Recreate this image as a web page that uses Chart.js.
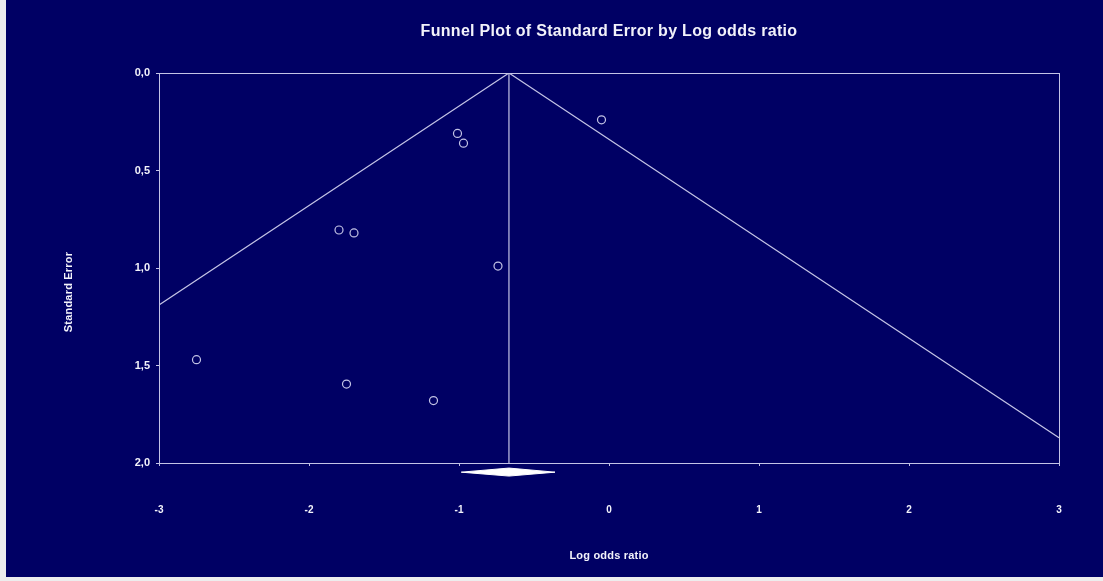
<!DOCTYPE html>
<html>
<head>
<meta charset="utf-8">
<script src="https://cdn.jsdelivr.net/npm/chart.js@4.4.1/dist/chart.umd.min.js"></script>
<style>
    html, body { margin: 0; padding: 0; background: #ededed; width: 1103px; height: 581px; overflow: hidden; }
    #wrap { position: absolute; left: 6px; top: 0; width: 1097px; height: 577px; background: #000064; }
    canvas { display: block; }
</style>
</head>
<body>
<div id="wrap"><canvas id="funnel" width="1097" height="577"></canvas></div>
<script>
// studies
const studyLogOR = [-0.05, -1.01, -0.97, -1.80, -1.70, -0.74, -2.75, -1.75, -1.17];
const studySE = [0.24, 0.31, 0.36, 0.805, 0.82, 0.99, 1.47, 1.595, 1.68];

// pooled estimate line + funnel limits
const pooledX = [-0.667, -0.667];
const pooledSE = [0, 2];
const funnelX = [-3, -0.667, 3];
const funnelSE = [1.19, 0, 1.87];

// summary diamond under the axis
const diamondX = [-0.985, -0.667, -0.36, -0.667, -0.985];
const diamondSE = [2.047, 2.026, 2.047, 2.067, 2.047];

const xTickValues = [-3, -2, -1, 0, 1, 2, 3];
const xTickLabels = ["-3", "-2", "-1", "0", "1", "2", "3"];
const yTickValues = [0, 0.5, 1, 1.5, 2];
const yTickLabels = ["0,0", "0,5", "1,0", "1,5", "2,0"];

const lineColor = "#c4c4e6";
const textColor = "#f2f2fa";
const fontFamily = "'Liberation Sans', Arial, sans-serif";

function toPoints(xs, ys) {
    return xs.map((x, i) => ({ x: x, y: ys[i] }));
}

// frame, diamond and the titles
const extras = {
    id: "extras",
    afterDatasetsDraw(chart) {
        const ctx = chart.ctx;
        const a = chart.chartArea;
        const xs = chart.scales.x, ys = chart.scales.y;
        ctx.save();
        ctx.strokeStyle = lineColor;
        ctx.lineWidth = 1;
        ctx.strokeRect(Math.round(a.left) + 0.5, Math.round(a.top) + 0.5,
            Math.round(a.right - a.left), Math.round(a.bottom - a.top));

        ctx.beginPath();
        diamondX.forEach((x, i) => {
            const px = xs.getPixelForValue(x), py = ys.getPixelForValue(diamondSE[i]);
            if (i === 0) ctx.moveTo(px, py); else ctx.lineTo(px, py);
        });
        ctx.closePath();
        ctx.fillStyle = "#ffffff";
        ctx.fill();
        ctx.strokeStyle = "#ffffff";
        ctx.stroke();

        const cx = (a.left + a.right) / 2;
        ctx.fillStyle = textColor;
        ctx.textAlign = "center";
        ctx.textBaseline = "middle";
        ctx.font = "bold 16px " + fontFamily;
        ctx.letterSpacing = "0.3px";
        ctx.fillText("Funnel Plot of Standard Error by Log odds ratio", cx, 32);
        ctx.font = "bold 11px " + fontFamily;
        ctx.letterSpacing = "0.2px";
        ctx.fillText("Log odds ratio", cx, 556);
        ctx.translate(63, 292);
        ctx.rotate(-Math.PI / 2);
        ctx.fillText("Standard Error", 0, 0);
        ctx.restore();
    }
};

const ctx = document.getElementById("funnel").getContext("2d");
new Chart(ctx, {
    type: "scatter",
    data: {
        datasets: [
            {
                data: toPoints(funnelX, funnelSE),
                showLine: true,
                borderColor: lineColor,
                borderWidth: 1.2,
                pointRadius: 0,
                order: 3,
            },
            {
                data: toPoints(pooledX, pooledSE),
                showLine: true,
                borderColor: lineColor,
                borderWidth: 1.2,
                pointRadius: 0,
                order: 2,
            },
            {
                data: toPoints(studyLogOR, studySE),
                pointStyle: "circle",
                pointRadius: 4,
                borderWidth: 1.2,
                borderColor: lineColor,
                backgroundColor: "transparent",
                order: 1,
            },
        ],
    },
    options: {
        responsive: false,
        animation: false,
        devicePixelRatio: 1,
        layout: { padding: { top: 73, right: 44, left: 0, bottom: 0 } },
        scales: {
            x: {
                type: "linear",
                min: -3,
                max: 3,
                afterFit: (scale) => { scale.height = 114; },
                ticks: {
                    stepSize: 1,
                    padding: 38,
                    color: textColor,
                    font: { family: fontFamily, size: 10, weight: "bold" },
                    callback: (v) => xTickLabels[xTickValues.indexOf(v)],
                },
                grid: { drawOnChartArea: false, drawTicks: true, tickLength: 3, color: lineColor },
                border: { display: true, color: lineColor, width: 1 },
            },
            y: {
                type: "linear",
                reverse: true,
                min: 0,
                max: 2,
                afterFit: (scale) => { scale.width = 153; },
                ticks: {
                    stepSize: 0.5,
                    padding: 6,
                    color: textColor,
                    font: { family: fontFamily, size: 11, weight: "bold" },
                    callback: (v) => yTickLabels[yTickValues.indexOf(v)],
                },
                grid: { drawOnChartArea: false, drawTicks: true, tickLength: 3, color: lineColor },
                border: { display: true, color: lineColor, width: 1 },
            },
        },
        plugins: {
            legend: { display: false },
            tooltip: { enabled: false },
            title: { display: false },
        },
    },
    plugins: [extras],
});
</script>
</body>
</html>
